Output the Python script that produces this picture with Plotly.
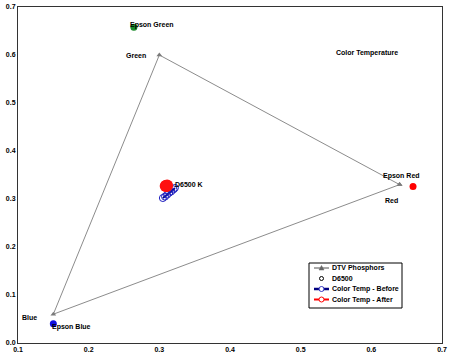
import plotly.graph_objects as go

# DTV phosphor triangle (Red, Green, Blue, back to Red)
dtv_names = ["Red", "Green", "Blue", "Red"]
dtv_x = [0.64, 0.30, 0.15, 0.64]
dtv_y = [0.33, 0.60, 0.06, 0.33]

# D6500 white point
d65_x = [0.3127]
d65_y = [0.329]

# Color temperature measurements
before_x = [0.305, 0.308, 0.311, 0.314, 0.317, 0.320, 0.322]
before_y = [0.302, 0.305, 0.309, 0.313, 0.316, 0.320, 0.323]
after_x = [0.309, 0.310, 0.311]
after_y = [0.327, 0.327, 0.328]

# Epson primaries
epson_names = ["Epson Green", "Epson Red", "Epson Blue"]
epson_x = [0.264, 0.659, 0.150]
epson_y = [0.658, 0.326, 0.040]
epson_colors = ["#1a8a2a", "#ff0000", "#1010e0"]

# Legend entries
legend_names = ["DTV Phosphors", "D6500", "Color Temp - Before", "Color Temp - After"]

FONT = "Liberation Sans, Arial, sans-serif"
W, H = 450, 359
ML, MR, MT, MB = 18, 8, 7, 16
PW, PH = W - ML - MR, H - MT - MB

def px(x):
    return (x - ML) / PW

def py(y):
    return (H - MB - y) / PH

fig = go.Figure()
fig.add_trace(go.Scatter(x=dtv_x, y=dtv_y, mode="lines+markers", name=legend_names[0],
                         line=dict(color="#8c8c8c", width=1),
                         marker=dict(symbol="triangle-up", size=5, color="#7a7a7a")))
fig.add_trace(go.Scatter(x=d65_x, y=d65_y, mode="markers", name=legend_names[1],
                         marker=dict(symbol="circle-open", size=5, color="black", line=dict(width=1))))
fig.add_trace(go.Scatter(x=before_x, y=before_y, mode="lines+markers", name=legend_names[2],
                         line=dict(color="#000080", width=2),
                         marker=dict(symbol="circle-open", size=7, color="#2020c0", line=dict(width=1))))
fig.add_trace(go.Scatter(x=after_x, y=after_y, mode="lines+markers", name=legend_names[3],
                         line=dict(color="#ff0000", width=2),
                         marker=dict(symbol="circle", size=12, color="#ff1010")))
for n, x, y, c in zip(epson_names, epson_x, epson_y, epson_colors):
    fig.add_trace(go.Scatter(x=[x], y=[y], mode="markers", name=n,
                             marker=dict(symbol="circle", size=7, color=c)))

labels = [
    ("Epson Green", 0.2895, 0.662, "center"),
    ("Green", 0.267, 0.600, "center"),
    ("Color Temperature", 0.594, 0.604, "center"),
    ("Epson Red", 0.643, 0.348, "center"),
    ("Red", 0.629, 0.296, "center"),
    ("D6500 K", 0.319, 0.330, "left"),
    ("Blue", 0.1156, 0.054, "center"),
    ("Epson Blue", 0.175, 0.033, "center"),
]
for t, x, y, a in labels:
    fig.add_annotation(x=x, y=y, text="<b>" + t + "</b>", showarrow=False, xanchor=a,
                       yanchor="middle", font=dict(family=FONT, size=7, color="black"))

# Compact legend box (drawn in paper coordinates)
shapes = []
shapes.append(dict(type="rect", xref="paper", yref="paper", x0=px(309), x1=px(402),
                   y0=py(308), y1=py(263), line=dict(color="black", width=1),
                   fillcolor="white", layer="above"))
row_y = [268, 278.5, 289, 299.5]
line_styles = [("#a8a8a8", 2), None, ("#000080", 2.5), ("#ff0000", 2)]
for ls, ry in zip(line_styles, row_y):
    if ls:
        shapes.append(dict(type="line", xref="paper", yref="paper", x0=px(314), x1=px(329),
                           y0=py(ry), y1=py(ry), line=dict(color=ls[0], width=ls[1]), layer="above"))
# triangle marker
cx = 321.5
shapes.append(dict(type="path", xref="paper", yref="paper", layer="above",
                   path="M %f %f L %f %f L %f %f Z" % (px(cx - 2.5), py(row_y[0] + 2),
                                                      px(cx + 2.5), py(row_y[0] + 2),
                                                      px(cx), py(row_y[0] - 2.5)),
                   fillcolor="#666666", line=dict(color="#666666", width=0.5)))
circ = [(row_y[1], 2, "black", "white"), (row_y[2], 2.5, "#3030c0", "white"),
        (row_y[3], 2.5, "#ff0000", "white")]
for ry, r, lc, fc in circ:
    shapes.append(dict(type="circle", xref="paper", yref="paper", layer="above",
                       x0=px(cx - r), x1=px(cx + r), y0=py(ry + r), y1=py(ry - r),
                       line=dict(color=lc, width=1), fillcolor=fc))
for name, ry in zip(legend_names, row_y):
    fig.add_annotation(xref="paper", yref="paper", x=px(330), y=py(ry), text="<b>" + name + "</b>",
                       showarrow=False, xanchor="left", yanchor="middle",
                       font=dict(family=FONT, size=7, color="black"))

axis_common = dict(showgrid=False, zeroline=False, showline=True, linecolor="#333333",
                   linewidth=1, mirror=True, ticks="", automargin=False,
                   tickfont=dict(family=FONT, size=7, color="black", weight="bold"))
fig.update_xaxes(range=[0.1, 0.7], dtick=0.1, tickformat=".1f", **axis_common)
fig.update_yaxes(range=[0, 0.7], dtick=0.1, tickformat=".1f", **axis_common)
fig.update_layout(
    width=W, height=H,
    margin=dict(l=ML, r=MR, t=MT, b=MB, autoexpand=False),
    paper_bgcolor="white", plot_bgcolor="white",
    showlegend=False,
    shapes=shapes,
)
fig.write_html("out.html", config={"displayModeBar": False},
               post_script="document.body.style.margin='0px';document.body.style.overflow='hidden';")
